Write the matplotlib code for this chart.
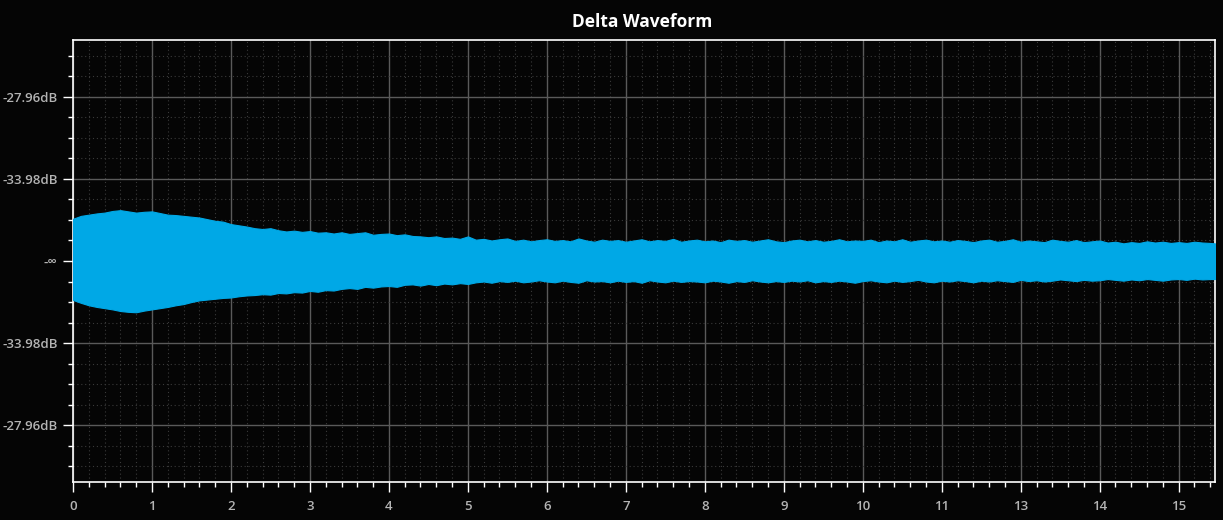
import matplotlib
matplotlib.use("Agg")
import matplotlib.pyplot as plt
from matplotlib.ticker import MultipleLocator, FixedLocator

# ---- data ----
# sample positions along the x axis (tick units)
t = [0.0, 0.1, 0.2, 0.3, 0.4, 0.5, 0.6, 0.7, 0.8, 0.9,
     1.0, 1.1, 1.2, 1.3, 1.4, 1.5, 1.6, 1.7, 1.8, 1.9,
     2.0, 2.1, 2.2, 2.3, 2.4, 2.5, 2.6, 2.7, 2.8, 2.9,
     3.0, 3.1, 3.2, 3.3, 3.4, 3.5, 3.6, 3.7, 3.8, 3.9,
     4.0, 4.1, 4.2, 4.3, 4.4, 4.5, 4.6, 4.7, 4.8, 4.9,
     5.0, 5.1, 5.2, 5.3, 5.4, 5.5, 5.6, 5.7, 5.8, 5.9,
     6.0, 6.1, 6.2, 6.3, 6.4, 6.5, 6.6, 6.7, 6.8, 6.9,
     7.0, 7.1, 7.2, 7.3, 7.4, 7.5, 7.6, 7.7, 7.8, 7.9,
     8.0, 8.1, 8.2, 8.3, 8.4, 8.5, 8.6, 8.7, 8.8, 8.9,
     9.0, 9.1, 9.2, 9.3, 9.4, 9.5, 9.6, 9.7, 9.8, 9.9,
     10.0, 10.1, 10.2, 10.3, 10.4, 10.5, 10.6, 10.7, 10.8, 10.9,
     11.0, 11.1, 11.2, 11.3, 11.4, 11.5, 11.6, 11.7, 11.8, 11.9,
     12.0, 12.1, 12.2, 12.3, 12.4, 12.5, 12.6, 12.7, 12.8, 12.9,
     13.0, 13.1, 13.2, 13.3, 13.4, 13.5, 13.6, 13.7, 13.8, 13.9,
     14.0, 14.1, 14.2, 14.3, 14.4, 14.46]
# upper envelope of the waveform (linear amplitude, x1e-4)
upper_e4 = [103, 110, 113, 116, 118, 122, 124, 121, 118, 120,
            121, 117, 113, 112, 110, 108, 106, 102, 98, 96,
            90, 87, 84, 80, 78, 80, 75, 72, 74, 71,
            73, 69, 70, 67, 70, 66, 68, 70, 64, 66,
            67, 63, 65, 61, 60, 58, 60, 56, 57, 54,
            60, 52, 54, 50, 53, 55, 49, 52, 48, 51,
            53, 49, 51, 48, 55, 50, 47, 52, 49, 51,
            47, 50, 53, 48, 51, 49, 54, 47, 50, 52,
            48, 50, 46, 52, 49, 51, 47, 50, 53, 48,
            46, 50, 52, 48, 51, 47, 49, 53, 48, 50,
            49, 52, 46, 50, 48, 53, 47, 50, 52, 48,
            50, 47, 51, 49, 46, 50, 52, 47, 49, 53,
            47, 50, 48, 46, 52, 49, 47, 51, 46, 48,
            50, 45, 47, 43, 46, 44, 48, 45, 47, 44,
            46, 44, 47, 45, 44, 43]
# lower envelope of the waveform (linear amplitude, x1e-4, negative)
lower_e4 = [-95, -102, -108, -112, -115, -118, -122, -124, -125, -121,
            -118, -115, -112, -108, -105, -100, -96, -94, -92, -90,
            -89, -86, -84, -83, -81, -82, -78, -79, -76, -77,
            -73, -75, -71, -72, -68, -66, -68, -63, -65, -62,
            -61, -63, -58, -57, -60, -56, -59, -55, -57, -54,
            -56, -52, -50, -53, -49, -51, -48, -52, -50, -47,
            -50, -52, -48, -51, -53, -47, -50, -49, -52, -48,
            -51, -49, -53, -47, -50, -52, -48, -51, -49, -50,
            -52, -48, -50, -53, -49, -51, -47, -50, -52, -49,
            -51, -48, -50, -47, -52, -49, -51, -48, -50, -53,
            -49, -47, -50, -52, -48, -51, -49, -46, -50, -52,
            -48, -50, -47, -49, -52, -48, -50, -47, -49, -51,
            -46, -49, -47, -50, -48, -45, -47, -49, -46, -48,
            -47, -44, -46, -48, -45, -47, -44, -46, -48, -45,
            -44, -46, -43, -45, -44, -44]

x_tick_pos = [0, 1, 2, 3, 4, 5, 6, 7, 8, 9, 10, 11, 12, 13, 14]
x_tick_labels = ["0", "1", "2", "3", "4", "5", "6", "7", "8", "9", "10", "11", "13", "14", "15"]
y_tick_pos = [0.04, 0.02, 0.0, -0.02, -0.04]
y_tick_labels = ["-27.96dB", "-33.98dB", "-\u221e", "-33.98dB", "-27.96dB"]
title = "Delta Waveform"

upper = [v * 1e-4 for v in upper_e4]
lower = [v * 1e-4 for v in lower_e4]

# ---- styling ----
BG = "#050505"
WAVE = "#00a8e6"
LABEL = "#b4b4b4"

plt.rcParams["font.family"] = ["Open Sans", "DejaVu Sans"]

fig = plt.figure(figsize=(12.23, 5.20), dpi=100, facecolor=BG)
ax = fig.add_axes([73 / 1223, 1 - 482 / 520, (1215 - 73) / 1223, (482 - 40) / 520])
ax.set_facecolor(BG)

ax.fill_between(t, lower, upper, color=WAVE, linewidth=0.8, edgecolor=WAVE, zorder=3)

ax.set_xlim(0, 14.46)
ax.set_ylim(-0.0539, 0.0539)

ax.xaxis.set_major_locator(FixedLocator(x_tick_pos))
ax.set_xticklabels(x_tick_labels)
ax.xaxis.set_minor_locator(MultipleLocator(0.2))
ax.yaxis.set_major_locator(FixedLocator(y_tick_pos))
ax.set_yticklabels(y_tick_labels)
ax.yaxis.set_minor_locator(MultipleLocator(0.005))

ax.grid(which="major", color="#5a5a5a", linewidth=1.0, linestyle="-", zorder=1)
ax.grid(which="minor", color="#3a3a3a", linewidth=0.8, linestyle=(0, (1, 2.5)), zorder=1)
ax.set_axisbelow(True)

for s in ax.spines.values():
    s.set_color("white")
    s.set_linewidth(1.2)

ax.tick_params(axis="both", which="major", colors="white", length=7, width=1.0,
               labelcolor=LABEL, labelsize=9.5)
ax.tick_params(axis="both", which="minor", colors="white", length=3.5, width=1.0)
ax.tick_params(axis="x", which="major", pad=6)
ax.tick_params(axis="y", which="major", pad=4)
for lab in ax.get_xticklabels() + ax.get_yticklabels():
    lab.set_fontweight("semibold")

fig.text(642 / 1223, 1 - 22 / 520, title, color="white", fontsize=12.5,
         fontweight="bold", ha="center", va="center")

fig.savefig("out.png", dpi=100, facecolor=BG)
